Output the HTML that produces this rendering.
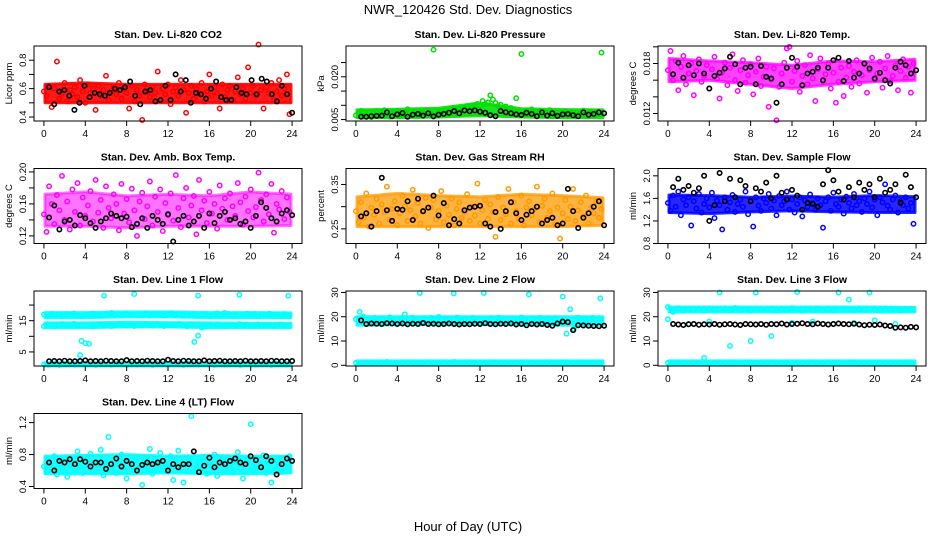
<!DOCTYPE html>
<html><head><meta charset="utf-8"><style>
body{margin:0;background:#fff;}
svg{display:block;font-family:"Liberation Sans",sans-serif;}
</style></head><body>
<svg id="chart" width="936" height="540" viewBox="0 0 936 540" xmlns="http://www.w3.org/2000/svg">
<text x="468" y="14" text-anchor="middle" font-size="13">NWR_120426  Std. Dev. Diagnostics</text>
<text x="468" y="531" text-anchor="middle" font-size="13">Hour of Day (UTC)</text>
</svg>
<script>
// ---- data ----
const xTicks=[0,4,8,12,16,20,24];
const bandHours=[0,4,8,12,16,20,24];
const co2Red=[.58,.55,.62,.47,.60,.79,.53,.57,.64,.51,.59,.56,.61,.54,.66,.58,.50,.63,.57,.60,.45,.62,.55,.59,.69,.52,.58,.61,.56,.64,.53,.60,.57,.46,.62,.51,.59,.55,.38,.63,.58,.54,.61,.57,.72,.52,.60,.56,.63,.49,.58,.61,.55,.66,.59,.43,.57,.62,.53,.60,.56,.64,.51,.58,.70,.55,.61,.57,.46,.63,.54,.59,.62,.52,.58,.68,.56,.60,.53,.75,.57,.62,.55,.91,.59,.46,.61,.57,.64,.52,.58,.66,.55,.60,.70,.42];
const co2BandLo=[.50,.50,.50,.50,.50,.50,.50];
const co2BandHi=[.63,.64,.63,.63,.63,.63,.63];
const co2Black=[.61,.49,.58,.59,.55,.45,.50,.62,.54,.57,.56,.55,.57,.60,.59,.61,.65,.55,.49,.58,.59,.51,.52,.62,.52,.70,.58,.66,.50,.57,.56,.53,.60,.65,.54,.52,.52,.61,.57,.56,.66,.56,.67,.65,.56,.51,.62,.56,.43];
const presGreen=[.0065,.0072,.0080,.0061,.0068,.0075,.0059,.0070,.0078,.0064,.0069,.0083,.0066,.0060,.0074,.0071,.0079,.0063,.0068,.0073,.0086,.0065,.0070,.0077,.0062,.0069,.0075,.0080,.0066,.0071,.0295,.0064,.0073,.0078,.0068,.0082,.0070,.0075,.0088,.0079,.0085,.0091,.0083,.0095,.0087,.0100,.0092,.0105,.0098,.0115,.0104,.0110,.0135,.0120,.0108,.0098,.0102,.0089,.0096,.0084,.0091,.0078,.0125,.0074,.0280,.0070,.0082,.0076,.0086,.0068,.0073,.0080,.0065,.0071,.0077,.0083,.0062,.0069,.0075,.0066,.0072,.0079,.0064,.0070,.0076,.0061,.0068,.0074,.0081,.0065,.0071,.0078,.0063,.0069,.0075,.0285];
const presBandLo=[.0057,.0057,.0059,.0064,.0059,.0057,.0057];
const presBandHi=[.0084,.0086,.0090,.0108,.0088,.0085,.0084];
const presBlack=[.0060,.0060,.0062,.0063,.0064,.0075,.0062,.0068,.0073,.0060,.0067,.0070,.0064,.0072,.0061,.0067,.0070,.0074,.0080,.0072,.0082,.0079,.0082,.0078,.0074,.0065,.0062,.0080,.0076,.0072,.0068,.0066,.0074,.0070,.0062,.0075,.0064,.0072,.0063,.0068,.0070,.0065,.0062,.0075,.0067,.0070,.0075,.0072];
const tempMag=[.0172,.0195,.0160,.0183,.0148,.0176,.0189,.0155,.0168,.0180,.0142,.0171,.0185,.0158,.0165,.0178,.0150,.0173,.0188,.0162,.0138,.0169,.0181,.0154,.0175,.0191,.0160,.0147,.0172,.0184,.0157,.0166,.0179,.0143,.0170,.0186,.0153,.0164,.0176,.0128,.0161,.0174,.0112,.0152,.0168,.0181,.0198,.0200,.0158,.0171,.0183,.0146,.0165,.0178,.0155,.0190,.0162,.0135,.0173,.0186,.0159,.0167,.0180,.0150,.0169,.0133,.0158,.0175,.0141,.0163,.0177,.0152,.0170,.0184,.0156,.0166,.0179,.0145,.0172,.0187,.0161,.0168,.0182,.0151,.0174,.0189,.0159,.0165,.0178,.0148,.0171,.0185,.0163,.0176,.0145,.0180];
const tempBandLo=[.0158,.0160,.0155,.0150,.0155,.0158,.0160];
const tempBandHi=[.0186,.0183,.0181,.0178,.0183,.0182,.0185];
const tempBlack=[.0167,.0181,.0163,.0178,.0166,.0180,.0168,.0150,.0165,.0169,.0174,.0188,.0179,.0155,.0175,.0176,.0155,.0177,.0164,.0162,.0133,.0155,.0175,.0187,.0176,.0154,.0168,.0170,.0175,.0160,.0175,.0184,.0187,.0159,.0183,.0163,.0168,.0180,.0174,.0162,.0169,.0160,.0156,.0175,.0182,.0178,.0168,.0172];
const ambMag=[.147,.125,.182,.160,.135,.171,.152,.195,.140,.163,.128,.178,.150,.186,.133,.168,.145,.158,.176,.138,.190,.149,.165,.130,.182,.155,.142,.172,.160,.127,.185,.148,.166,.137,.179,.152,.120,.163,.174,.141,.157,.188,.133,.169,.150,.178,.126,.161,.146,.173,.139,.196,.155,.131,.167,.180,.143,.158,.170,.122,.190,.152,.164,.136,.175,.148,.160,.129,.183,.154,.167,.140,.173,.157,.145,.186,.162,.134,.169,.151,.178,.143,.156,.199,.165,.138,.172,.147,.185,.124,.160,.153,.176,.141,.168,.150];
const ambBandLo=[.132,.132,.130,.132,.132,.132,.133];
const ambBandHi=[.172,.175,.170,.172,.170,.175,.172];
const ambBlack=[.143,.158,.128,.138,.140,.133,.146,.142,.136,.130,.138,.142,.148,.145,.142,.144,.131,.135,.142,.130,.145,.140,.135,.147,.113,.140,.145,.133,.138,.145,.130,.148,.136,.145,.150,.140,.142,.135,.138,.130,.145,.162,.155,.142,.138,.148,.152,.146];
const rhOrange=[.290,.265,.310,.275,.330,.255,.298,.282,.318,.262,.305,.288,.345,.270,.295,.312,.258,.285,.325,.300,.268,.292,.338,.278,.308,.262,.288,.320,.252,.298,.315,.272,.290,.335,.265,.302,.282,.318,.258,.295,.310,.275,.288,.328,.268,.300,.280,.352,.262,.292,.315,.272,.305,.288,.232,.322,.270,.298,.283,.340,.262,.310,.290,.272,.325,.258,.298,.312,.280,.295,.345,.265,.302,.318,.275,.290,.330,.260,.298,.228,.285,.315,.272,.300,.340,.268,.292,.310,.278,.325,.262,.298,.285,.312,.275,.295];
const rhBandLo=[.255,.255,.255,.255,.255,.255,.258];
const rhBandHi=[.322,.330,.325,.322,.328,.325,.320];
const rhBlack=[.278,.285,.255,.290,.365,.292,.268,.295,.293,.312,.270,.318,.290,.298,.325,.280,.308,.258,.272,.262,.292,.298,.300,.302,.262,.255,.288,.250,.290,.310,.285,.270,.282,.290,.300,.262,.270,.275,.258,.262,.340,.290,.252,.275,.285,.300,.312,.258];
const flowBlue=[1.52,1.38,1.65,1.45,1.72,1.30,1.58,1.48,1.62,1.12,1.55,1.42,1.68,1.35,1.50,1.60,1.44,1.70,1.25,1.56,1.48,1.05,1.62,1.40,1.53,1.66,1.36,1.50,1.58,1.45,1.72,1.32,1.55,1.10,1.62,1.47,1.38,1.60,1.52,1.68,1.42,1.56,1.30,1.64,1.48,1.55,1.72,1.40,1.58,1.35,1.50,1.62,1.28,1.56,1.45,1.67,1.52,1.40,1.60,1.48,1.08,1.55,1.62,1.38,1.70,1.50,1.45,1.58,1.33,1.63,1.52,1.42,1.68,1.48,1.55,1.36,1.60,1.50,1.72,1.44,1.58,1.30,1.62,1.53,1.85,1.47,1.40,1.58,1.65,1.35,1.55,1.48,1.62,1.42,1.52,1.15];
const flowBandLo=[1.35,1.33,1.36,1.38,1.36,1.35,1.35];
const flowBandHi=[1.66,1.65,1.62,1.64,1.62,1.65,1.63];
const flowBlack=[1.80,1.95,1.75,1.82,1.70,1.78,2.00,1.20,1.48,2.05,1.55,1.95,1.62,1.92,1.82,1.55,1.78,1.72,1.88,1.60,2.00,1.70,1.58,1.75,1.65,1.40,1.52,1.50,1.45,1.85,2.10,1.92,1.72,1.58,1.80,1.62,1.88,1.75,1.85,1.62,1.95,1.70,1.75,1.85,1.52,2.02,1.80,1.62];
const l1High=[17,16.5,17.2,16.8,17,16.6,17.1,16.9,17.3,16.7,16.5,17,16.8,17.2,16.9,16.6,23,17.1,17.5,16.8,17,16.7,17.2,16.9,23.5,17,16.8,17.3,16.6,17.1,16.9,17.2,16.7,17,17.4,16.8,17.1,16.6,17,16.9,17.2,23,16.8,17.1,16.7,17,17.3,16.9,17.5,17.1,16.7,17,23.3,16.8,17.2,16.9,17.1,16.6,17,16.8,17.2,16.9,17,16.7,17.1,23];
const l1Low=[13.2,13.5,13.8,13.3,13.6,13.9,13.4,13.7,14,13.5,8.5,7.8,7.6,13.2,13.6,13.8,13.4,13.7,13.3,13.5,13.9,13.6,13.4,13.8,13.3,13.7,13.5,13.9,13.6,13.4,13.8,13.5,13.3,13.7,13.6,13.4,13.9,13.5,13.2,13.8,8.2,10.2,12.8,13.1,13.6,13.4,13.8,13.5,13.3,13.7,13.6,13.4,13.9,13.5,13.7,13.3,13.6,13.8,13.4,13.5,13.7,13.3,13.6,13.8,13.4,13.5];
const l1Base=[1,.9,1.2,.8,1.1,1,.9,4,1.2,1,.8,1.1,1,.9,1.2,1,.8,1.1,.9,1,1.2,.8,1.1,1,.9,1.1,1,.8,1.2,1,.9,1.1,1,.8,1.2,.9,1,1.1,.8,1,1.2,.9,1.1,1,.8,1.2,1,.9];
const l1BandAHi=[17.6,17.6,17.8,17.8,17.6,17.6,17.5];
const l1BandALo=[16.0,16.0,16.2,16.2,16.0,16.0,16.0];
const l1BandBHi=[14.3,14.3,14.5,14.4,14.3,14.2,14.2];
const l1BandBLo=[12.8,12.8,13.0,13.0,12.8,12.8,12.8];
const l1BandCHi=[1.5,1.5,1.5,1.5,1.5,1.5,1.5];
const l1BandCLo=[.5,.5,.5,.5,.5,.5,.5];
const l1Black=[2,2.1,2,2.2,2,2,2.1,2.3,2,2.1,2,2.2,2.1,2,2,2.4,2,2.1,2,2.2,2.1,2,2,2.5,2.1,2,2.2,2.1,2,2,2.3,2,2.1,2.2,2,2,2.1,2,2.2,2,2,2.1,2,2.2,2.1,2,2,2.1];
const l2High=[19,22,20,17,18.5,19.5,18,19.2,18.6,19.8,18.2,19,19.4,21,18.8,19.6,18.3,29.8,19.1,18.7,19.5,18.4,19.9,18.9,19.3,18.5,29.6,19.7,18.6,19.2,18.8,19.5,18.3,19,29.8,18.7,19.4,18.9,19.6,18.4,19.1,18.8,19.3,18.5,19.7,18.9,29.2,19.2,18.6,19.5,18.7,19.1,18.4,19.4,18.8,28.3,13,23,15,19.6,18.5,19.2,18.9,19.5,18.6,27.6];
const l2Low=[1,.8,1.2,1,.9,1.1,1.3,.8,1,1.2,.9,1.1,1,.8,1.2,1,.9,1.1,1,1.3,.8,1,1.2,.9,1.1,1,.8,1.2,1,.9,1.1,1,1.2,.8,1,1.1,.9,1.2,1,.8,1.1,1,.9,1.2,1,1.1,.8,1];
const l2BandAHi=[20,20,20,20,20,20,20];
const l2BandALo=[16.5,16.8,16.8,16.8,16.8,16.5,16.5];
const l2BandBHi=[1.8,1.8,1.8,1.8,1.8,1.8,1.8];
const l2BandBLo=[.2,.2,.2,.2,.2,.2,.2];
const l2Black=[18.5,17,17.2,17.1,17,17.3,17.2,17,17.2,16.9,17.1,17,17.4,17,17.1,16.9,17,17.2,17,16.8,17,16.9,17.1,17,17.3,17,16.9,17.1,17,17.2,16.8,17,16.5,17,16.8,17,16.6,16.3,17.2,18,17.8,14.5,16.5,16.4,16.3,16.2,16.1,16.3];
const l3High=[24,22,23.5,22.5,23,22.8,23.4,22.6,23.1,22.9,30,23.3,22.7,23.6,22.8,23.2,22.5,30,23,22.9,23.4,22.6,23.2,22.8,23.5,30.2,22.7,23.1,22.9,23.3,22.6,23,22.8,30,23.4,27,22.7,23.2,22.9,30,23.1,22.6,23.3,22.8,23,22.5,22.9,23.2];
const l3Low=[1,.8,1.2,1,.9,1.1,1,3,.8,1.2,1,.9,1.1,1,.8,1.2,1,.9,1.1,1,1.2,.8,1,1.1,.9,1.2,1,.8,1.1,1,.9,1.2,1,1.1,.8,1,1.2,.9,1.1,1,.8,1.2,1,.9,1.1,1,1.2,.8];
const l3Mid=[19,17,18,8,10,12,17.5,18,17,17.5,18.5,17];
const l3BandAHi=[24,24,24,24,24,24,23.8];
const l3BandALo=[22,22,22,22,22,22,22];
const l3BandBHi=[1.8,1.8,1.8,1.8,1.8,1.8,1.8];
const l3BandBLo=[.2,.2,.2,.2,.2,.2,.2];
const l3Black=[17,16.8,16.6,16.9,17,16.7,16.9,16.8,17,16.7,16.9,17,16.8,16.6,17,16.9,16.8,17,16.7,17,16.9,17.2,16.8,17,17.1,17.3,17,16.9,17.2,17,16.8,17,17.2,17,16.9,17.1,16.8,16.5,16.7,16.6,16.8,16.4,16.2,15.5,15.6,15.5,15.8,15.6];
const l4Cyan=[.65,.58,.72,.62,.78,.55,.68,.63,.75,.52,.66,.71,.60,.84,.64,.57,.73,.67,.81,.59,.70,.63,.86,.54,.68,1.02,.61,.74,.57,.69,.80,.63,.50,.72,.66,.59,.76,.64,.42,.70,.62,.87,.56,.73,.67,.82,.60,.69,.64,.78,.48,.71,.85,.62,.45,.68,.74,1.28,.59,.66,.72,.62,.77,.56,.70,.65,.80,.53,.68,.73,.61,.76,.66,.58,.71,.83,.63,.50,.69,.74,1.18,.60,.67,.72,.64,.79,.57,.68,.45,.73,.62,.70,.58,.66,.75,.78];
const l4BandLo=[.56,.56,.56,.57,.56,.56,.57];
const l4BandHi=[.78,.79,.80,.78,.79,.78,.78];
const l4Black=[.70,.60,.72,.70,.74,.68,.74,.71,.65,.70,.70,.62,.68,.75,.65,.72,.68,.60,.67,.70,.68,.70,.72,.60,.68,.64,.68,.68,.84,.58,.66,.76,.64,.70,.68,.72,.75,.70,.68,.78,.73,.64,.78,.72,.55,.68,.75,.72];

// ---- panel configuration ----
const panels=[
 {title:"Stan. Dev. Li-820 CO2",ylab:"Licor ppm",dom:[.372,.90],ticks:[.4,.5,.6,.7,.8],labels:[.4,.6,.8],dec:1,col:"#ff0000",op:.9,bands:[[co2BandLo,co2BandHi]],series:[co2Red],black:co2Black},
 {title:"Stan. Dev. Li-820 Pressure",ylab:"kPa",dom:[.0045,.0308],ticks:[.005,.010,.015,.020,.025],labels:[.005,.020],dec:3,col:"#00e000",op:.9,bands:[[presBandLo,presBandHi]],series:[presGreen],black:presBlack},
 {title:"Stan. Dev. Li-820 Temp.",ylab:"degrees C",dom:[.0111,.0201],ticks:[.012,.014,.016,.018,.020],labels:[.012,.018],dec:3,col:"#ff00ff",op:.75,bands:[[tempBandLo,tempBandHi]],series:[tempMag],black:tempBlack},
 {title:"Stan. Dev. Amb. Box Temp.",ylab:"degrees C",dom:[.1105,.2043],ticks:[.12,.14,.16,.18,.20],labels:[.12,.16,.20],dec:2,col:"#ff00ff",op:.55,bands:[[ambBandLo,ambBandHi]],series:[ambMag],black:ambBlack},
 {title:"Stan. Dev. Gas Stream RH",ylab:"percent",dom:[.217,.386],ticks:[.25,.30,.35],labels:[.25,.35],dec:2,col:"#ff9a00",op:.75,bands:[[rhBandLo,rhBandHi]],series:[rhOrange],black:rhBlack},
 {title:"Stan. Dev. Sample Flow",ylab:"ml/min",dom:[.8,2.13],ticks:[.8,1.2,1.6,2.0],labels:[.8,1.2,1.6,2.0],dec:1,col:"#0000ff",op:.85,bands:[[flowBandLo,flowBandHi]],series:[flowBlue],black:flowBlack},
 {title:"Stan. Dev. Line 1 Flow",ylab:"ml/min",dom:[.5,24.5],ticks:[5,10,15,20],labels:[5,15],dec:0,col:"#00ffff",op:.9,bands:[[l1BandALo,l1BandAHi],[l1BandBLo,l1BandBHi],[l1BandCLo,l1BandCHi]],series:[l1High,l1Low,l1Base],black:l1Black},
 {title:"Stan. Dev. Line 2 Flow",ylab:"ml/min",dom:[-.3,30.6],ticks:[0,10,20,30],labels:[0,10,20,30],dec:0,col:"#00ffff",op:.9,bands:[[l2BandALo,l2BandAHi],[l2BandBLo,l2BandBHi]],series:[l2High,l2Low],black:l2Black},
 {title:"Stan. Dev. Line 3 Flow",ylab:"ml/min",dom:[-.3,30.6],ticks:[0,10,20,30],labels:[0,10,20,30],dec:0,col:"#00ffff",op:.9,bands:[[l3BandALo,l3BandAHi],[l3BandBLo,l3BandBHi]],series:[l3High,l3Low,l3Mid],black:l3Black},
 {title:"Stan. Dev. Line 4 (LT) Flow",ylab:"ml/min",dom:[.375,1.314],ticks:[.4,.8,1.2],labels:[.4,.8,1.2],dec:1,col:"#00ffff",op:.9,bands:[[l4BandLo,l4BandHi]],series:[l4Cyan],black:l4Black}
];
const NS="http://www.w3.org/2000/svg";
const svg=document.getElementById('chart');
function mk(tag,attrs,parent){const e=document.createElementNS(NS,tag);for(const k in attrs)e.setAttribute(k,attrs[k]);(parent||svg).appendChild(e);return e;}
panels.forEach((p,idx)=>{
 const c=idx%3,r=Math.floor(idx/3);
 const L=34+312*c,T=46+122.5*r,W=268,H=75;
 const g=mk('g',{});
 
 
 const xs=v=>L+(v+0.96)/25.92*W;
 const ys=v=>T+H-(v-p.dom[0])/(p.dom[1]-p.dom[0])*H;
 const t=mk('text',{x:L+W/2,y:T-8,'text-anchor':'middle','font-size':'10.5','font-weight':'bold'},g);
 t.textContent=p.title;
 
 
 p.bands.forEach(([lo,hi])=>{
  const pts=[];
  bandHours.forEach((h,i)=>pts.push(xs(Math.max(0.1,Math.min(23.9,h))).toFixed(1)+','+ys(hi[i]).toFixed(1)));
  for(let i=bandHours.length-1;i>=0;i--)pts.push(xs(Math.max(0.1,Math.min(23.9,bandHours[i]))).toFixed(1)+','+ys(lo[i]).toFixed(1));
  const b=mk('polygon',{points:pts.join(' '),fill:p.col,'fill-opacity':p.op,stroke:p.col,'stroke-width':3,'stroke-opacity':p.op,'stroke-linejoin':'round'},g);
  
  
 });
 p.series.forEach(arr=>{
  const n=arr.length;
  arr.forEach((v,i)=>{
   const hr=i*24/n;
   const y=ys(v); if(y<T-2||y>T+H+2) return;
   const m=mk('circle',{cx:xs(hr).toFixed(1),cy:y.toFixed(1),r:2.2,fill:'none',stroke:p.col,'stroke-width':1.5},g);
   
   
  });
 });
 const nb=p.black.length;
 p.black.forEach((v,i)=>{
  const hr=0.5+i*23.5/(nb-1);
  const m=mk('circle',{cx:xs(hr).toFixed(1),cy:ys(v).toFixed(1),r:2.2,fill:'none',stroke:'#000','stroke-width':1.6},g);
  
  
 });
 const box=mk('rect',{x:L,y:T,width:W,height:H,fill:'none',stroke:'#000','stroke-width':1},g);
 
 
 mk('line',{x1:xs(0),x2:xs(24),y1:T+H,y2:T+H,stroke:'#000'},g);
 xTicks.forEach(v=>{
  mk('line',{x1:xs(v),x2:xs(v),y1:T+H,y2:T+H+5,stroke:'#000'},g);
  const tl=mk('text',{x:xs(v),y:T+H+16,'text-anchor':'middle','font-size':'10'},g);
  tl.textContent=v;
  
  
 });
 p.ticks.forEach(v=>{mk('line',{x1:L-5,x2:L,y1:ys(v),y2:ys(v),stroke:'#000'},g);});
 p.labels.forEach(v=>{
  const yy=ys(v);
  const tl=mk('text',{x:0,y:0,'text-anchor':'middle','font-size':'9.5',transform:`translate(${L-8},${yy}) rotate(-90)`},g);
  tl.textContent=v.toFixed(p.dec);
  
  
 });
 const yl=mk('text',{x:0,y:0,'text-anchor':'middle','font-size':'9.5',transform:`translate(${L-22},${T+H/2}) rotate(-90)`},g);
 yl.textContent=p.ylab;
 
 
});
</script>
</body></html>
